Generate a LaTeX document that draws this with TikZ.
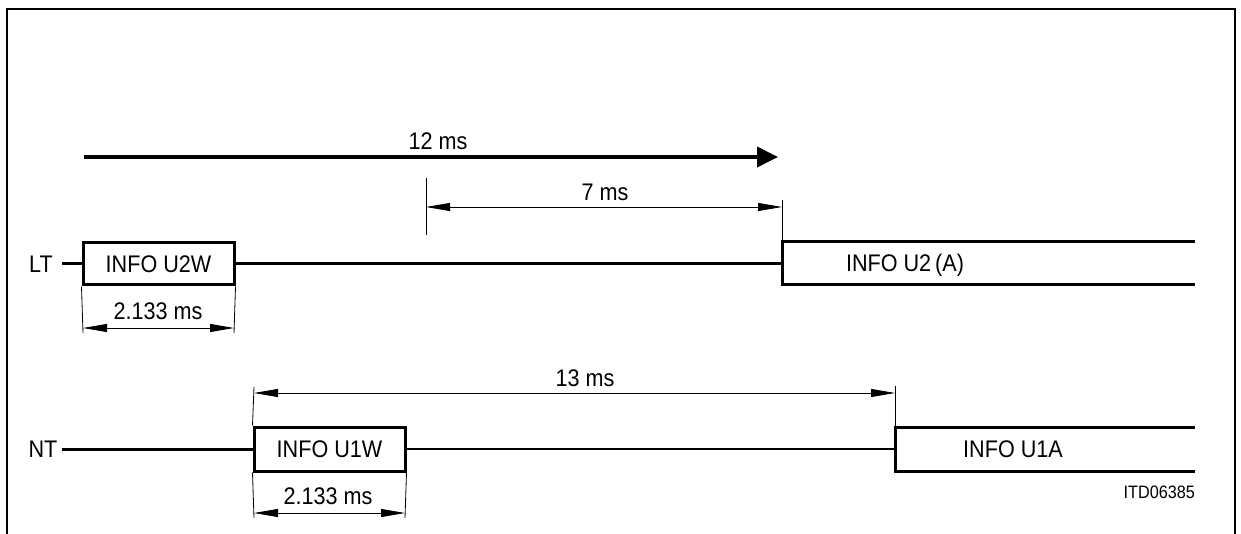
\documentclass[tikz,border=0pt]{standalone}
\usepackage{fontspec}
\setmainfont{Liberation Sans}[FakeStretch=0.9]
\usetikzlibrary{arrows.meta}
\begin{document}
\begin{tikzpicture}[x=1pt,y=-1pt,
  sig/.style={line width=3pt},
  frameline/.style={line width=1.5pt},
  ext/.style={line width=0.8pt},
  dimline/.style={line width=0.8pt,{Triangle[length=24pt,width=8pt]}-{Triangle[length=24pt,width=8pt]}},
  lbl/.style={font=\fontsize{24}{28}\selectfont, inner sep=0pt},
  small/.style={font=\fontsize{18}{21}\selectfont, inner sep=0pt},
  infobox/.style={draw, line width=3pt, minimum width=151pt, inner sep=0pt, lbl}
]
\useasboundingbox (0,0) rectangle (1241,534);
% frame
\draw[frameline] (7,534) -- (7,9) -- (1235,9) -- (1235,534);

% 12 ms arrow
\coordinate (a12s) at (84,157);
\coordinate (a12e) at (778,157);
\draw[line width=4pt,-{Triangle[length=21pt,width=20pt]}] (a12s) -- (a12e);
\node[lbl] (t12) at (438,141) {12 ms};

% LT line
\node[lbl] (lt) at (41,264) {LT};
\coordinate (ltstart) at (62,264);
\node[infobox, minimum height=42pt] (u2w) at (158.5,264) {INFO U2W};
\coordinate (u2atl) at (782,242);
\coordinate (u2abl) at (782,285);
\coordinate (u2atr) at (1195,242);
\coordinate (u2abr) at (1195,285);
\coordinate (u2aml) at (782,264);
\draw[sig] (ltstart) -- (u2w.west);
\draw[sig] (u2w.east) -- (u2aml);
\draw[sig] (u2atr) -- (u2atl) -- (u2abl) -- (u2abr);
\node[lbl] (u2a) at (905,265) {INFO U2\,(A)};

% 7 ms
\coordinate (s7a) at (426,178);
\coordinate (s7b) at (426,235);
\coordinate (s7c) at (782,200);
\draw[ext] (s7a) -- (s7b);
\draw[ext] (s7c) -- (u2atl);
\coordinate (d7a) at (426,207);
\coordinate (d7b) at (782,207);
\draw[dimline] (d7a) -- (d7b);
\node[lbl] (t7) at (605,192) {7 ms};

% 2.133 ms (LT)
\coordinate (e1a) at (83,333);
\coordinate (e1b) at (234,333);
\draw[ext] (u2w.south west) -- (e1a);
\draw[ext] (u2w.south east) -- (e1b);
\coordinate (d1a) at (83,328);
\coordinate (d1b) at (234,328);
\draw[dimline] (d1a) -- (d1b);
\node[lbl] (t1) at (158,311) {2.133 ms};

% NT line
\node[lbl] (nt) at (43,449) {NT};
\coordinate (ntstart) at (62,449);
\node[infobox, minimum height=44pt] (u1w) at (329.5,449) {INFO U1W};
\coordinate (u1atl) at (895,427);
\coordinate (u1abl) at (895,471);
\coordinate (u1atr) at (1195,427);
\coordinate (u1abr) at (1195,471);
\coordinate (u1aml) at (895,449);
\draw[sig] (ntstart) -- (u1w.west);
\draw[line width=2.5pt] (u1w.east) -- (u1aml);
\draw[sig] (u1atr) -- (u1atl) -- (u1abl) -- (u1abr);
\node[lbl] (u1a) at (1013,449) {INFO U1A};

% 13 ms
\coordinate (e13a) at (254,387);
\coordinate (e13b) at (895,386);
\draw[ext] (e13a) -- (u1w.north west);
\draw[ext] (e13b) -- (u1atl);
\coordinate (d13a) at (254,393);
\coordinate (d13b) at (895,393);
\draw[dimline] (d13a) -- (d13b);
\node[lbl] (t13) at (585,378) {13 ms};

% 2.133 ms (NT)
\coordinate (e2a) at (254,518);
\coordinate (e2b) at (405,518);
\draw[ext] (u1w.south west) -- (e2a);
\draw[ext] (u1w.south east) -- (e2b);
\coordinate (d2a) at (254,513);
\coordinate (d2b) at (405,513);
\draw[dimline] (d2a) -- (d2b);
\node[lbl] (t2) at (328,496) {2.133 ms};

% figure code
\node[small, anchor=east] (itd) at (1195,492) {ITD06385};
\end{tikzpicture}
\end{document}
